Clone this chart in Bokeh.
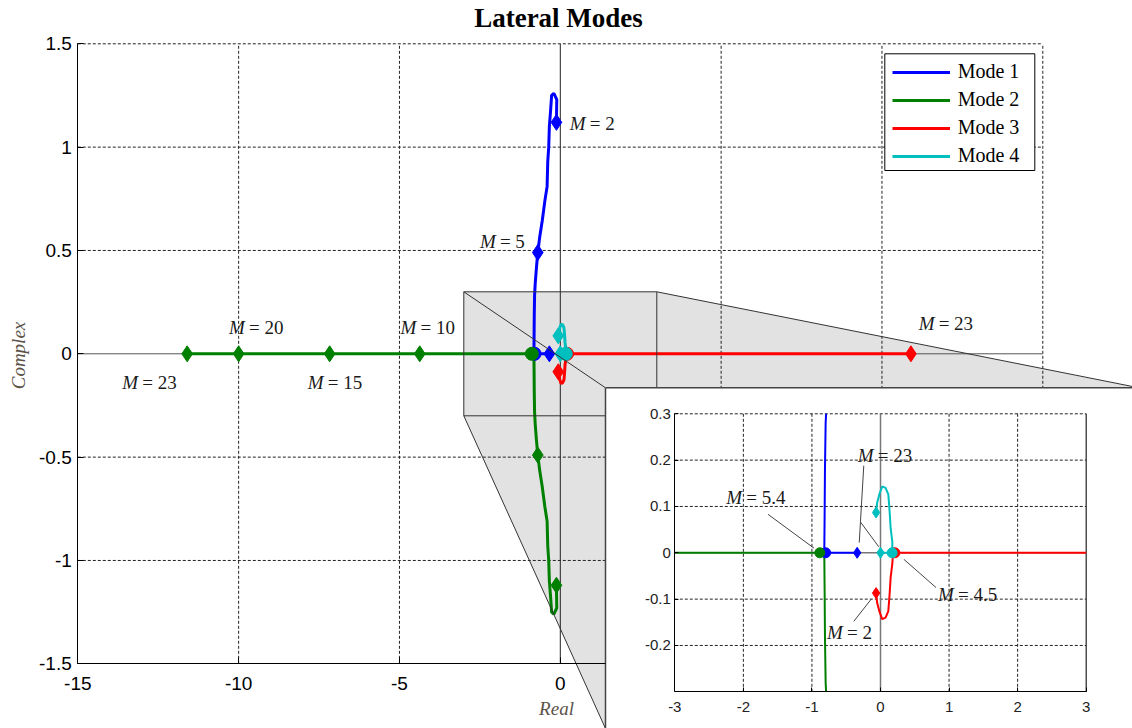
from bokeh.plotting import figure
from bokeh.models import (Range1d, LinearAxis, FixedTicker, NumeralTickFormatter,
                          Legend, LegendItem)
from bokeh.core.properties import value
from bokeh.embed import file_html
from bokeh.resources import INLINE

# ---------------- eigenvalue paths (real, imaginary) as M increases ----------------
mode1_re = [-0.12, -0.11, -0.20, -0.27, -0.30, -0.34, -0.36, -0.39, -0.41, -0.48, -0.56,
            -0.64, -0.70, -0.74, -0.78, -0.80, -0.81, -0.815, -0.82, -0.80, -0.60, -0.45, -0.34]
mode1_im = [1.12, 1.23, 1.26, 1.25, 1.18, 1.10, 1.00, 0.93, 0.81, 0.74, 0.645,
            0.565, 0.49, 0.42, 0.34, 0.28, 0.18, 0.08, 0.0, 0.0, 0.0, 0.0, 0.0]

mode2_re = [-0.12, -0.11, -0.20, -0.27, -0.30, -0.34, -0.36, -0.39, -0.41, -0.48, -0.56,
            -0.64, -0.70, -0.74, -0.78, -0.80, -0.81, -0.815, -0.82, -0.885, -4.37, -7.17,
            -10.0, -11.6]
mode2_im = [-1.12, -1.23, -1.26, -1.25, -1.18, -1.10, -1.00, -0.93, -0.81, -0.74, -0.645,
            -0.565, -0.49, -0.42, -0.34, -0.28, -0.18, -0.08, 0.0, 0.0, 0.0, 0.0, 0.0, 0.0]

mode3_re = [-0.064, -0.049, -0.015, 0.025, 0.074, 0.114, 0.133, 0.148, 0.173, 0.183, 0.21, 10.9]
mode3_im = [-0.087, -0.108, -0.127, -0.143, -0.140, -0.126, -0.089, -0.053, -0.023, 0.0, 0.0, 0.0]

mode4_re = [-0.064, -0.049, -0.015, 0.025, 0.074, 0.114, 0.133, 0.148, 0.173, 0.17, 0.0]
mode4_im = [0.087, 0.108, 0.127, 0.143, 0.140, 0.126, 0.089, 0.053, 0.023, 0.0, 0.0]

# marked points: diamonds at given M, circle where the pair meets the real axis
mode1_dia_M, mode1_dia_re, mode1_dia_im = [2, 5, 23], [-0.12, -0.70, -0.34], [1.12, 0.49, 0.0]
mode2_dia_M = [2, 5, 10, 15, 20, 23]
mode2_dia_re = [-0.12, -0.70, -4.37, -7.17, -10.0, -11.6]
mode2_dia_im = [-1.12, -0.49, 0.0, 0.0, 0.0, 0.0]
mode3_dia_M, mode3_dia_re, mode3_dia_im = [2, 23], [-0.064, 10.9], [-0.087, 0.0]
mode4_dia_M, mode4_dia_re, mode4_dia_im = [2, 23], [-0.064, 0.0], [0.087, 0.0]

mode1_cir_M, mode1_cir_re, mode1_cir_im = [5.4], [-0.80], [0.0]
mode2_cir_M, mode2_cir_re, mode2_cir_im = [5.4], [-0.885], [0.0]
mode3_cir_M, mode3_cir_re, mode3_cir_im = [4.5], [0.21], [0.0]
mode4_cir_M, mode4_cir_re, mode4_cir_im = [4.5], [0.17], [0.0]

mode_names = ["Mode 1", "Mode 2", "Mode 3", "Mode 4"]
mode_colors = ["#0000ff", "#008000", "#ff0000", "#00bfbf"]

# axis ticks
main_xticks = [-15, -10, -5, 0]
main_yticks = [-1.5, -1, -0.5, 0, 0.5, 1, 1.5]
main_xgrid = [-10, -5, 5, 10, 15]
main_ygrid = [-1, -0.5, 0.5, 1, 1.5]
inset_xticks = [-3, -2, -1, 0, 1, 2, 3]
inset_yticks = [-0.2, -0.1, 0, 0.1, 0.2, 0.3]
inset_xgrid = [-2, -1, 1, 2]
inset_ygrid = [-0.2, -0.1, 0.1, 0.2, 0.3]

# M annotations
main_label_M = ["2", "5", "10", "20", "15", "23", "23"]
inset_label_M = ["23", "5.4", "4.5", "2"]

# ---------------- layout (pixel geometry of the two axes boxes) ----------------
W, H = 1132, 728
MAIN_X, MAIN_Y = (-15, 15), (-1.5, 1.5)
MAIN_PX = (77.3, 1042.3, 43.3, 663.3)        # left, right, top, bottom
INSET_X, INSET_Y = (-3, 3), (-0.3, 0.3)
INSET_PX = (674.3, 1085.7, 413.3, 691.3)
PANEL_LEFT, PANEL_TOP = 605.0, 387.3


def full_range(p_lo, p_hi, v_lo, v_hi, total):
    k = (p_hi - p_lo) / (v_hi - v_lo)
    return v_lo - p_lo / k, v_hi + (total - p_hi) / k, k


mx0, mx1, kx = full_range(MAIN_PX[0], MAIN_PX[1], MAIN_X[0], MAIN_X[1], W)
my0, my1, ky = full_range(H - MAIN_PX[3], H - MAIN_PX[2], MAIN_Y[0], MAIN_Y[1], H)
ix0, ix1, _ = full_range(INSET_PX[0], INSET_PX[1], INSET_X[0], INSET_X[1], W)
iy0, iy1, _ = full_range(H - INSET_PX[3], H - INSET_PX[2], INSET_Y[0], INSET_Y[1], H)


def sx(px):
    return mx0 + px / kx


def sy(py):
    return my0 + (H - py) / ky


def clip_segment(x1, y1, x2, y2, box):
    xmin, xmax, ymin, ymax = box
    dx, dy = x2 - x1, y2 - y1
    u0, u1 = 0.0, 1.0
    for pk, qk in ((-dx, x1 - xmin), (dx, xmax - x1), (-dy, y1 - ymin), (dy, ymax - y1)):
        if pk == 0:
            if qk < 0:
                return None
        else:
            t = qk / pk
            if pk < 0:
                u0 = max(u0, t)
            else:
                u1 = min(u1, t)
    if u0 > u1:
        return None
    return x1 + u0 * dx, y1 + u0 * dy, x1 + u1 * dx, y1 + u1 * dy, u0 > 0, u1 < 1


def clip_path(xs, ys, box):
    out_x, out_y, cx, cy = [], [], [], []
    for i in range(len(xs) - 1):
        seg = clip_segment(xs[i], ys[i], xs[i + 1], ys[i + 1], box)
        if seg is None:
            if cx:
                out_x.append(cx); out_y.append(cy)
            cx, cy = [], []
            continue
        ax, ay, bx, by, cut_start, cut_end = seg
        if cut_start or not cx:
            if cx:
                out_x.append(cx); out_y.append(cy)
            cx, cy = [ax], [ay]
        cx.append(bx); cy.append(by)
        if cut_end:
            out_x.append(cx); out_y.append(cy)
            cx, cy = [], []
    if cx:
        out_x.append(cx); out_y.append(cy)
    return out_x, out_y


p = figure(width=W, height=H, x_range=Range1d(mx0, mx1), y_range=Range1d(my0, my1),
           x_axis_location=None, y_axis_location=None, toolbar_location=None,
           output_backend="svg", min_border=0, outline_line_color=None,
           background_fill_color="white", border_fill_color="white")
p.grid.visible = False
p.extra_x_ranges = {"ix": Range1d(ix0, ix1)}
p.extra_y_ranges = {"iy": Range1d(iy0, iy1)}

GRID = dict(line_color="#222222", line_width=1, line_dash="3 2")
SERIF = value("Liberation Serif")

# zoom call-out: shaded hull between the zoom box and the inset panel
zx0, zx1 = INSET_X
zy0, zy1 = INSET_Y
p.patch(x=[zx0, zx1, sx(W), sx(W), sx(PANEL_LEFT), zx0],
        y=[zy1, zy1, sy(386.0), sy(H), sy(H), zy0],
        fill_color="#e2e2e2", line_color=None)

# main grid and zero lines
p.segment(x0=main_xgrid, y0=[MAIN_Y[0]] * len(main_xgrid), x1=main_xgrid,
          y1=[MAIN_Y[1]] * len(main_xgrid), **GRID)
p.segment(x0=[MAIN_X[0]] * len(main_ygrid), y0=main_ygrid, x1=[MAIN_X[1]] * len(main_ygrid),
          y1=main_ygrid, **GRID)
p.segment(x0=[MAIN_X[0]], y0=[0], x1=[MAIN_X[1]], y1=[0], line_color="#555555", line_width=1)
p.segment(x0=[0], y0=[MAIN_Y[0]], x1=[0], y1=[MAIN_Y[1]], line_color="#222222", line_width=1)

# legend frame
p.quad(left=[sx(884.3)], right=[sx(1034.3)], top=[sy(53.3)], bottom=[sy(170.0)],
       fill_color="white", line_color="black", line_width=1)

paths = [(mode1_re, mode1_im), (mode2_re, mode2_im), (mode3_re, mode3_im), (mode4_re, mode4_im)]
diamonds = [(mode1_dia_re, mode1_dia_im), (mode2_dia_re, mode2_dia_im),
            (mode3_dia_re, mode3_dia_im), (mode4_dia_re, mode4_dia_im)]
circles = [(mode1_cir_re, mode1_cir_im), (mode2_cir_re, mode2_cir_im),
           (mode3_cir_re, mode3_cir_im), (mode4_cir_re, mode4_cir_im)]

line_renderers = []
for (xs, ys), c in zip(paths, mode_colors):
    line_renderers.append(p.line(xs, ys, line_color=c, line_width=3))
for (dx, dy), (cx_, cy_), c in zip(diamonds, circles, mode_colors):
    p.scatter(dx, dy, marker="diamond", size=16, fill_color=c, line_color=c)
    p.scatter(cx_, cy_, marker="circle", size=13, fill_color=c, line_color=c)

# M labels on the main axes
main_label_x = [0.295, -2.50, -4.97, -10.30, -7.85, -13.62, 11.14]
main_label_y = [1.116, 0.543, 0.126, 0.126, -0.137, -0.137, 0.147]
LBL = dict(text_font=SERIF, text_font_size="19px", text_baseline="middle",
           text_align="left", text_color="#1a1a1a")
p.text(x=main_label_x, y=main_label_y, text=["M"] * len(main_label_M),
       text_font_style="italic", **LBL)
p.text(x=main_label_x, y=main_label_y, text=["= " + m for m in main_label_M],
       x_offset=20, **LBL)

# call-out outline and connectors
EDGE = dict(line_color="#333333", line_width=1)
p.multi_line(xs=[[zx0, zx1, zx1, zx0, zx0]], ys=[[zy1, zy1, zy0, zy0, zy1]], **EDGE)
p.segment(x0=[zx0, zx1, zx0], y0=[zy1, zy1, zy0],
          x1=[sx(PANEL_LEFT), sx(W), sx(PANEL_LEFT)], y1=[sy(PANEL_TOP), sy(386.0), sy(H)], **EDGE)

# inset panel
p.quad(left=[sx(PANEL_LEFT)], right=[sx(W + 20)], top=[sy(PANEL_TOP)], bottom=[sy(H + 20)],
       fill_color="white", line_color=None)
p.segment(x0=[sx(PANEL_LEFT), sx(PANEL_LEFT)], y0=[sy(PANEL_TOP), sy(PANEL_TOP)],
          x1=[sx(PANEL_LEFT), sx(W)], y1=[sy(H), sy(PANEL_TOP)],
          line_color="#444444", line_width=1.5)

IR = dict(x_range_name="ix", y_range_name="iy")
p.segment(x0=inset_xgrid, y0=[zy0] * len(inset_xgrid), x1=inset_xgrid,
          y1=[zy1] * len(inset_xgrid), **GRID, **IR)
p.segment(x0=[zx0] * len(inset_ygrid), y0=inset_ygrid, x1=[zx1] * len(inset_ygrid),
          y1=inset_ygrid, **GRID, **IR)
p.segment(x0=[zx1], y0=[zy0], x1=[zx1], y1=[zy1], line_color="#222222", line_width=1.2, **IR)
p.segment(x0=[zx0, 0], y0=[0, zy0], x1=[zx1, 0], y1=[0, zy1],
          line_color="#777777", line_width=1.5, **IR)

box = (zx0, zx1, zy0, zy1)
for (xs, ys), c in zip(paths, mode_colors):
    cxs, cys = clip_path(xs, ys, box)
    if cxs:
        p.multi_line(xs=cxs, ys=cys, line_color=c, line_width=2, **IR)


def inside(xs, ys):
    keep = [(x, y) for x, y in zip(xs, ys) if zx0 <= x <= zx1 and zy0 <= y <= zy1]
    return [k[0] for k in keep], [k[1] for k in keep]


for (dx, dy), (cx_, cy_), c in zip(diamonds, circles, mode_colors):
    ddx, ddy = inside(dx, dy)
    ccx, ccy = inside(cx_, cy_)
    p.scatter(ddx, ddy, marker="diamond", size=11, fill_color=c, line_color=c, **IR)
    p.scatter(ccx, ccy, marker="circle", size=10, fill_color=c, line_color=c, **IR)

# inset M labels with leader lines
inset_label_x = [-0.33, -2.25, 0.84, -0.78]
inset_label_y = [0.211, 0.12, -0.089, -0.172]
p.segment(x0=[-0.244, -0.29, -1.64, 0.81, -0.39], y0=[0.188, 0.066, 0.083, -0.075, -0.148],
          x1=[-0.31, -0.025, -0.97, 0.34, -0.135], y1=[0.022, 0.013, 0.01, -0.014, -0.10],
          line_color="#444444", line_width=1, **IR)
p.text(x=inset_label_x, y=inset_label_y, text=["M"] * len(inset_label_M),
       text_font_style="italic", **LBL, **IR)
p.text(x=inset_label_x, y=inset_label_y, text=["= " + m for m in inset_label_M],
       x_offset=20, **LBL, **IR)

# title and axis names
p.text(x=[sx(558)], y=[sy(17)], text=["Lateral Modes"], text_font=SERIF,
       text_font_style="bold", text_font_size="27px", text_align="center",
       text_baseline="middle", text_color="black")
p.text(x=[sx(556)], y=[sy(708)], text=["Real"], text_font=SERIF, text_font_style="italic",
       text_font_size="19px", text_align="center", text_baseline="middle", text_color="#5b5248")
p.text(x=[sx(18)], y=[sy(355)], text=["Complex"], text_font=SERIF, text_font_style="italic",
       text_font_size="19px", text_align="center", text_baseline="middle",
       text_color="#5b5248", angle=1.5708)

# axes
fmt = NumeralTickFormatter(format="0.[0]")
AX = dict(major_tick_out=0, minor_tick_in=0, minor_tick_out=0, axis_line_color="black",
          major_tick_line_color="black", formatter=fmt,
          major_label_text_font="Liberation Sans")
main_xaxis = LinearAxis(fixed_location=MAIN_Y[0], bounds=(MAIN_X[0], sx(PANEL_LEFT)),
                        ticker=FixedTicker(ticks=main_xticks), major_tick_in=6,
                        major_label_text_font_size="19px", major_label_standoff=13,
                        major_label_text_color="black", **AX)
main_yaxis = LinearAxis(fixed_location=MAIN_X[0], bounds=MAIN_Y,
                        ticker=FixedTicker(ticks=main_yticks), major_tick_in=6,
                        major_label_text_font_size="19px", major_label_standoff=6,
                        major_label_text_color="black", **AX)
inset_xaxis = LinearAxis(fixed_location=INSET_Y[0], bounds=INSET_X,
                         ticker=FixedTicker(ticks=inset_xticks), major_tick_in=4,
                         major_label_text_font_size="15px", major_label_standoff=10,
                         major_label_text_color="#222222", **AX, **IR)
inset_yaxis = LinearAxis(fixed_location=INSET_X[0], bounds=INSET_Y,
                         ticker=FixedTicker(ticks=inset_yticks), major_tick_in=4,
                         major_label_text_font_size="15px", major_label_standoff=4,
                         major_label_text_color="#222222", **AX, **IR)
p.add_layout(main_xaxis, "below")
p.add_layout(main_yaxis, "left")
p.add_layout(inset_xaxis, "below")
p.add_layout(inset_yaxis, "left")

legend = Legend(items=[LegendItem(label=n, renderers=[r]) for n, r in zip(mode_names, line_renderers)],
                location=(891.7, 561.0), padding=5, spacing=5, label_height=22, glyph_height=22,
                glyph_width=58, label_standoff=8, margin=0, border_line_color=None,
                background_fill_alpha=0, label_text_font="Liberation Serif",
                label_text_font_size="20px", label_text_color="black")
p.add_layout(legend)

open("out.html", "w").write(file_html(p, INLINE))
